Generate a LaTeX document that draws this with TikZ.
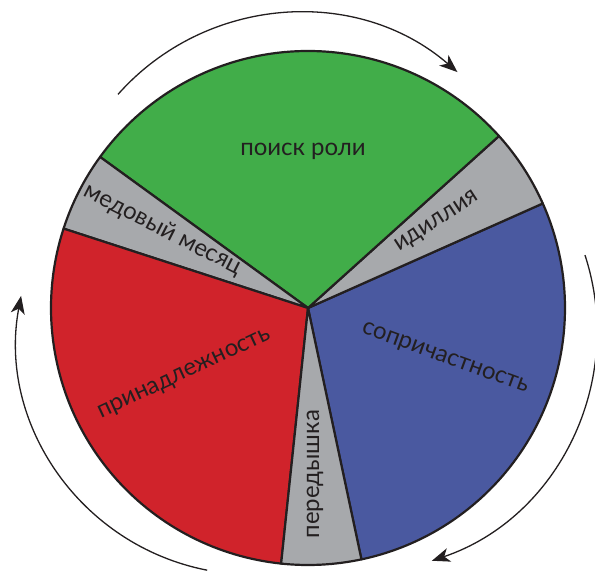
\documentclass[tikz,border=0pt]{standalone}
\usepackage{fontspec}
\setmainfont{Lato}
\usetikzlibrary{arrows.meta}
\definecolor{pgreen}{HTML}{41AD49}
\definecolor{pred}{HTML}{D0232B}
\definecolor{pblue}{HTML}{4A59A0}
\definecolor{pgray}{HTML}{A7A9AC}
\definecolor{outl}{HTML}{231F20}
\definecolor{txt}{HTML}{231F20}
\begin{document}
\begin{tikzpicture}[x=1pt,y=1pt]
\useasboundingbox (0,0) rectangle (595,573);
\tikzset{
  wedge/.style={draw=outl, line width=2.2pt, line join=round},
  lbl/.style={font=\fontsize{24}{24}\selectfont, text=txt, inner sep=0pt, text height=1ex, text depth=0pt},
  cyc/.style={draw=outl, line width=1.3pt, -{Stealth[length=18pt,width=14pt,inset=5pt]}}
}
\def\R{257}
\coordinate (O) at (308,265);
% wedges
\filldraw[wedge, fill=pblue]  (O) -- ([shift={(-78:\R)}]O) arc[start angle=-78, end angle=24, radius=\R] -- cycle;
\filldraw[wedge, fill=pgray]  (O) -- ([shift={(24:\R)}]O) arc[start angle=24, end angle=42, radius=\R] -- cycle;
\filldraw[wedge, fill=pgreen] (O) -- ([shift={(42:\R)}]O) arc[start angle=42, end angle=144, radius=\R] -- cycle;
\filldraw[wedge, fill=pgray]  (O) -- ([shift={(144:\R)}]O) arc[start angle=144, end angle=162, radius=\R] -- cycle;
\filldraw[wedge, fill=pred]   (O) -- ([shift={(162:\R)}]O) arc[start angle=162, end angle=264, radius=\R] -- cycle;
\filldraw[wedge, fill=pgray]  (O) -- ([shift={(264:\R)}]O) arc[start angle=264, end angle=282, radius=\R] -- cycle;
% labels
\node[lbl] (poisk) at (303,420) {поиск роли};
\node[lbl, rotate=-27] (medovy) at ([shift={(153:165)}]O) {медовый месяц};
\node[lbl, rotate=33] (idill) at ([shift={(33:155)}]O) {идиллия};
\node[lbl, rotate=-20] (soprich) at ([shift={(-21:146)}]O) {сопричастность};
\node[lbl, rotate=25] (prinad) at ([shift={(209:140)}]O) {принадлежность};
\node[lbl, rotate=90] (pered) at (316.7,98.8) {передышка};
% cycle arrows
\coordinate (ct) at (299,318);
\coordinate (cr) at (354,242.4);
\coordinate (cl) at (252,233.5);
\draw[cyc] ([shift={(138.4:242)}]ct) arc[start angle=138.4, end angle=49.1, radius=242];
\draw[cyc] ([shift={(18.1:243)}]cr) arc[start angle=18.1, end angle=-71.3, radius=243];
\draw[cyc] ([shift={(259:235)}]cl) arc[start angle=259, end angle=169.3, radius=235];
\end{tikzpicture}
\end{document}
